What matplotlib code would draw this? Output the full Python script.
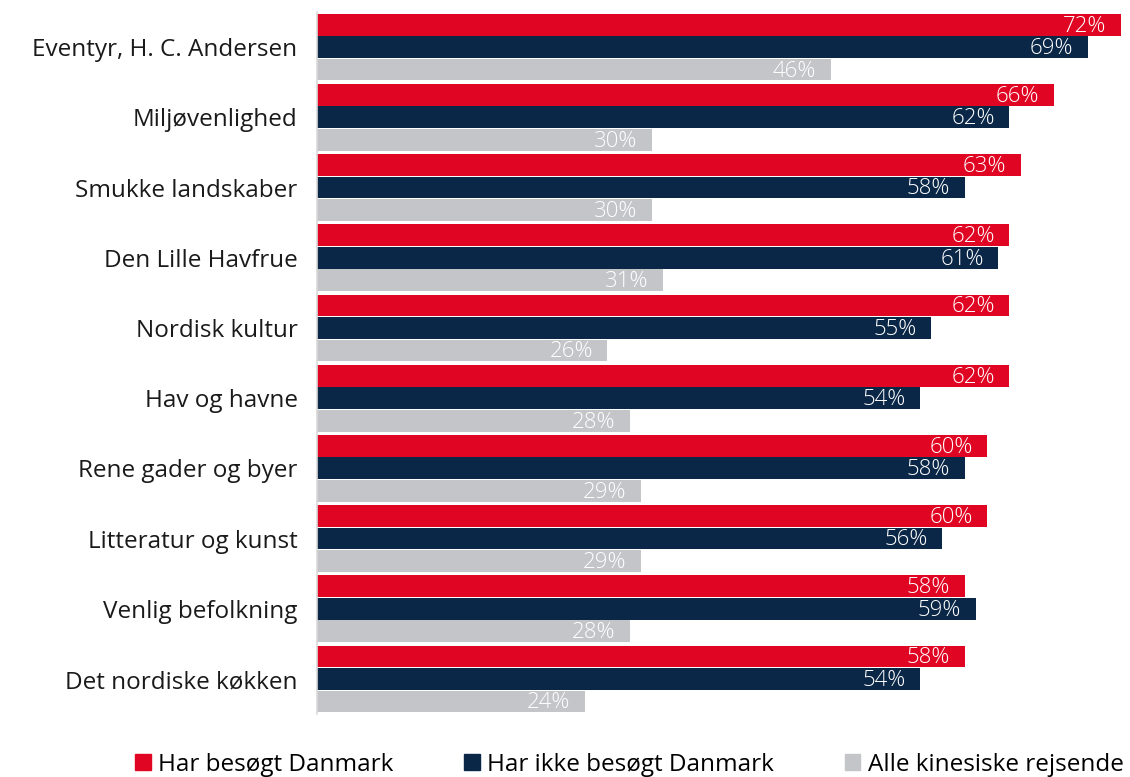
import numpy as np
import matplotlib
matplotlib.use("Agg")
import matplotlib.pyplot as plt
from matplotlib.patches import Patch

# data (percent)
categories = ["Eventyr, H. C. Andersen", "Miljøvenlighed", "Smukke landskaber",
              "Den Lille Havfrue", "Nordisk kultur", "Hav og havne",
              "Rene gader og byer", "Litteratur og kunst", "Venlig befolkning",
              "Det nordiske køkken"]
visited = [72, 66, 63, 62, 62, 62, 60, 60, 58, 58]
not_visited = [69, 62, 58, 61, 55, 54, 58, 56, 59, 54]
all_travellers = [46, 30, 30, 31, 26, 28, 29, 29, 28, 24]
series_names = ["Har besøgt Danmark", "Har ikke besøgt Danmark", "Alle kinesiske rejsende"]

colors = ["#E00522", "#0B2748", "#C4C5C8"]
font = "Open Sans"

fig = plt.figure(figsize=(11.3, 7.77), dpi=100)
ax = fig.add_axes([0.2805, 0.081, 0.7195, 0.9035])

y = np.arange(len(categories))
h = 0.32
for k, (vals, col) in enumerate(zip([visited, not_visited, all_travellers], colors)):
    pos = y + (k - 1) * h
    ax.barh(pos, vals, height=h - 0.01, color=col, label=series_names[k])
    for p, v in zip(pos, vals):
        ax.text(v - 1.3, p + 0.02, f"{v}%", ha="right", va="center", color="white",
                fontsize=16, family=font, fontweight="light")

ax.set_xlim(0, 72.8)
ax.set_ylim(len(categories) - 0.5, -0.5)
ax.set_yticks(y)
ax.set_yticklabels(categories, fontsize=17.5, family=font, color="#1a1a1a")
ax.tick_params(axis="y", length=0, pad=14)
ax.set_xticks([])
for s in ["top", "right", "bottom"]:
    ax.spines[s].set_visible(False)
ax.spines["left"].set_color("#d9d9d9")
ax.spines["left"].set_linewidth(1.2)

handles = [Patch(color=c) for c in colors]
fig.legend(handles, series_names, loc="lower center", bbox_to_anchor=(0.557, -0.028),
           ncol=3, frameon=False, handlelength=0.65, handleheight=0.65,
           handletextpad=0.3, columnspacing=2.9,
           prop={"family": font, "size": 17.5})

fig.savefig("out.png", dpi=100)
